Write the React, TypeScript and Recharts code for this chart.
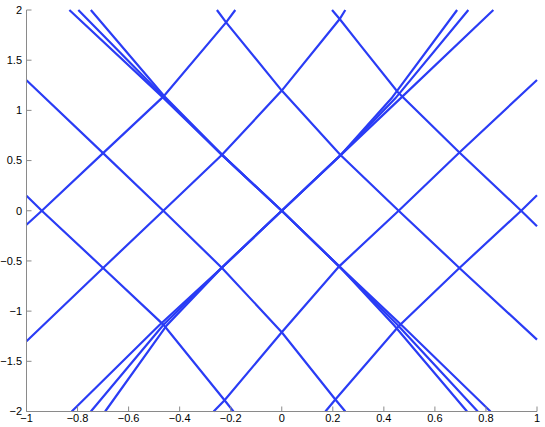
import { LineChart, Line, XAxis, YAxis } from "recharts";

const xTicks = [-1, -0.8, -0.6, -0.4, -0.2, 0, 0.2, 0.4, 0.6, 0.8, 1];
const yTicks = [-2, -1.5, -1, -0.5, 0, 0.5, 1, 1.5, 2];

// rising lines
const a1 = [[-1, -0.14], [-0.94, 0], [-0.7, 0.574], [-0.464, 1.137], [-0.218, 1.877], [-0.182, 2]];
const a2 = [[-1, -1.3], [-0.7, -0.57], [-0.464, 0], [-0.234, 0.557], [0, 1.197], [0.227, 1.91], [0.249, 2]];
const a4 = [[-0.267, -2], [-0.224, -1.888], [0, -1.21], [0.225, -0.554], [0.458, 0], [0.696, 0.58], [1, 1.303]];
const a5 = [[0.171, -2], [0.21, -1.88], [0.458, -1.151], [0.696, -0.57], [0.938, 0], [1, 0.155]];
const b1 = [[-0.823, -2], [-0.48, -1.14], [-0.234, -0.565], [0, 0], [0.232, 0.557], [0.465, 1.12], [0.829, 2]];
const b2 = [[-0.748, -2], [-0.465, -1.14], [-0.234, -0.565], [0, 0], [0.232, 0.557], [0.445, 1.12], [0.731, 2]];
const b3 = [[-0.692, -2], [-0.45, -1.14], [-0.234, -0.565], [0, 0], [0.232, 0.557], [0.43, 1.12], [0.687, 2]];

// falling lines
const d1 = [[-1, 1.3], [-0.7, 0.574], [-0.464, 0], [-0.234, -0.57], [0, -1.21], [0.21, -1.88], [0.249, -2]];
const d2 = [[-1, 0.149], [-0.94, 0], [-0.7, -0.57], [-0.464, -1.134], [-0.224, -1.888], [-0.189, -2]];
const d4 = [[-0.254, 2], [-0.218, 1.877], [0, 1.197], [0.229, 0.557], [0.458, 0], [0.696, -0.57], [1, -1.284]];
const d5 = [[0.197, 2], [0.227, 1.91], [0.307, 1.652], [0.455, 1.18], [0.696, 0.58], [0.938, 0], [1, -0.155]];
const e1 = [[-0.832, 2], [-0.47, 1.14], [-0.234, 0.557], [0, 0], [0.225, -0.554], [0.47, -1.14], [0.818, -2]];
const e2 = [[-0.797, 2], [-0.465, 1.14], [-0.234, 0.557], [0, 0], [0.225, -0.554], [0.455, -1.14], [0.768, -2]];
const e3 = [[-0.748, 2], [-0.46, 1.14], [-0.234, 0.557], [0, 0], [0.225, -0.554], [0.44, -1.14], [0.726, -2]];

const series = [a1, a2, a4, a5, b1, b2, b3, d1, d2, d4, d5, e1, e2, e3];

const toPts = (arr: number[][]) => arr.map(([x, y]) => ({ x, y }));
const fmt = (v: number) => String(v).replace("-", "\u2212");

const axisColor = "#8a8a8a";
const tickStyle = { fill: "#000", fontSize: 11, fontFamily: "'Liberation Sans', Arial, sans-serif" };

export default function App() {
  return (
    <div style={{ position: "absolute", left: 0, top: 0 }}>
      <LineChart width={545} height={427} margin={{ top: 10, right: 8, left: 0, bottom: 0 }}>
        <XAxis
          type="number"
          dataKey="x"
          domain={[-1, 1]}
          ticks={xTicks}
          tickFormatter={fmt}
          height={15.5}
          tickSize={-5}
          tickMargin={8}
          axisLine={{ stroke: axisColor }}
          tickLine={{ stroke: axisColor }}
          tick={tickStyle}
        />
        <YAxis
          type="number"
          dataKey="y"
          domain={[-2, 2]}
          ticks={yTicks}
          tickFormatter={fmt}
          width={26.5}
          tickSize={-5}
          tickMargin={9.5}
          axisLine={{ stroke: axisColor }}
          tickLine={{ stroke: axisColor }}
          tick={tickStyle}
        />
        {series.map((s, i) => (
          <Line
            key={i}
            data={toPts(s)}
            dataKey="y"
            type="linear"
            stroke="#2a3cf5"
            strokeWidth={2.2}
            dot={false}
            isAnimationActive={false}
          />
        ))}
      </LineChart>
    </div>
  );
}
